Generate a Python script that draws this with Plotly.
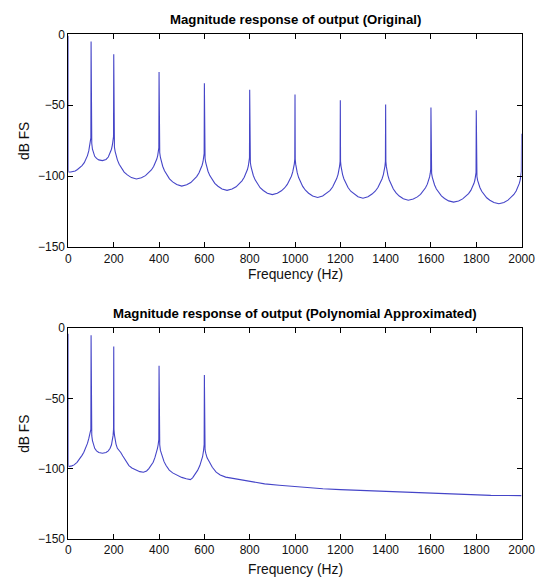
import plotly.graph_objects as go

# ---- Data ----
freq_orig = [
    0, 0, 10, 20, 30, 40, 50, 60, 70, 78, 84, 90, 94, 97, 99,
    100, 100.5, 101, 103, 106, 110, 116, 124, 134, 150, 166, 176, 184, 190, 194, 197, 199,
    200, 200.5, 201, 203, 206, 210, 216, 224, 234, 246, 260, 278, 300, 322, 340, 354, 366, 376, 384, 390, 394, 397, 399,
    400, 400.5, 401, 403, 406, 410, 416, 424, 434, 446, 460, 478, 500, 522, 540, 554, 566, 576, 584, 590, 594, 597, 599,
    600, 600.5, 601, 603, 606, 610, 616, 624, 634, 646, 660, 678, 700, 722, 740, 754, 766, 776, 784, 790, 794, 797, 799,
    800, 800.5, 801, 803, 806, 810, 816, 824, 834, 846, 860, 878, 900, 922, 940, 954, 966, 976, 984, 990, 994, 997, 999,
    1000, 1000.5, 1001, 1003, 1006, 1010, 1016, 1024, 1034, 1046, 1060, 1078, 1100, 1122, 1140, 1154, 1166, 1176, 1184, 1190, 1194, 1197, 1199,
    1200, 1200.5, 1201, 1203, 1206, 1210, 1216, 1224, 1234, 1246, 1260, 1278, 1300, 1322, 1340, 1354, 1366, 1376, 1384, 1390, 1394, 1397, 1399,
    1400, 1400.5, 1401, 1403, 1406, 1410, 1416, 1424, 1434, 1446, 1460, 1478, 1500, 1522, 1540, 1554, 1566, 1576, 1584, 1590, 1594, 1597, 1599,
    1600, 1600.5, 1601, 1603, 1606, 1610, 1616, 1624, 1634, 1646, 1660, 1678, 1700, 1722, 1740, 1754, 1766, 1776, 1784, 1790, 1794, 1797, 1799,
    1800, 1800.5, 1801, 1803, 1806, 1810, 1816, 1824, 1834, 1846, 1860, 1878, 1900, 1922, 1940, 1954, 1966, 1976, 1984, 1990, 1994, 1997, 1999,
    2000, 2000]
db_orig = [
    -1, -97, -97, -96.8, -96.3, -95.3, -94, -92.5, -90.5, -88, -85.5, -82, -78.5, -75, -73,
    -5, -33, -73, -77, -81, -84, -86, -87.5, -88.5, -89, -88.2, -86.5, -84, -81, -78, -75, -72,
    -14, -64, -76, -79.4, -82.5, -85.4, -88.5, -91.6, -94.5, -97.1, -99.1, -101, -102, -101.1, -99.6, -97.8, -95.6, -93.2, -90.6, -87.9, -85.5, -82.9, -80,
    -26.5, -48, -80, -83.5, -86.8, -89.7, -93, -96.2, -99.2, -101.9, -104, -105.9, -107, -106.1, -104.5, -102.6, -100.3, -97.8, -95, -92.3, -89.8, -87, -84,
    -34.5, -75.5, -84, -87.4, -90.5, -93.4, -96.5, -99.6, -102.5, -105.1, -107.1, -109, -110, -109.1, -107.5, -105.6, -103.3, -100.8, -98, -95.3, -92.8, -90, -87,
    -39, -58, -87, -90.4, -93.5, -96.4, -99.5, -102.6, -105.5, -108.1, -110.1, -112, -113, -112, -110.3, -108.3, -105.8, -103, -100, -97, -94.3, -91.3, -88,
    -42.5, -80.5, -88, -91.5, -94.8, -97.7, -101, -104.2, -107.2, -109.9, -112, -113.9, -115, -114, -112.2, -110.2, -107.6, -104.8, -101.7, -98.7, -95.9, -92.8, -89.5,
    -46.5, -63.5, -89.5, -92.9, -96, -98.9, -102, -105.1, -108, -110.6, -112.6, -114.5, -115.5, -114.5, -112.6, -110.6, -108, -105.1, -102, -98.9, -96, -92.9, -89.5,
    -49.5, -83.5, -89.5, -93.1, -96.4, -99.4, -102.7, -106, -109, -111.8, -114, -115.9, -117, -116.1, -114.6, -112.8, -110.6, -108.2, -105.6, -102.9, -100.5, -97.9, -95,
    -51.5, -67.5, -95, -98, -100.8, -103.4, -106.2, -109, -111.5, -113.9, -115.7, -117.4, -118.3, -117.5, -116, -114.3, -112.3, -110, -107.5, -105, -102.7, -100.2, -97.5,
    -53.5, -90.5, -97.5, -100.3, -103, -105.4, -108, -110.6, -113, -115.2, -117, -118.5, -119.4, -118.5, -116.9, -115.1, -112.9, -110.4, -107.8, -105.1, -102.6, -99.9, -97,
    -70, -97]

freq_poly = [
    0, 0, 15, 25, 38, 50, 60, 68, 76, 84, 90, 94, 97, 99,
    100, 100.5, 101, 103, 106, 110, 116, 124, 134, 150, 166, 176, 184, 190, 194, 197, 199,
    200, 200.5, 201, 203, 206, 210, 216, 224, 231, 240, 250, 260, 267, 280, 300, 315, 331, 345, 355, 366, 374, 382, 388, 393, 396, 399,
    400, 400.5, 401, 403, 406, 410, 415, 422, 431, 445, 460, 481, 500, 520, 538, 548, 560, 570, 580, 587, 592, 596, 598, 599,
    600, 600.5, 601, 603, 606, 612, 623, 635, 652, 670, 694, 737, 800, 866, 930, 994, 1123, 1200, 1294, 1400, 1508, 1600, 1722, 1864, 2000]
db_poly = [
    -4, -98.5, -98, -97.3, -95.5, -93, -90.5, -88.3, -85.5, -82, -78.5, -76, -73.5, -72,
    -5, -32.5, -72, -76.5, -80, -83, -85.5, -87.3, -88.5, -89, -88.5, -87.3, -85.5, -83, -80, -76.5, -72,
    -13, -64, -72, -76, -79.5, -82.5, -85.5, -87, -88.5, -91, -93.5, -96.2, -97.8, -99.5, -101.3, -102.1, -102.5, -101.6, -100, -97.8, -95.4, -92, -89, -85.5, -83, -79.3,
    -26.7, -48.5, -79.3, -83, -87, -89.5, -92, -95, -97.8, -101, -103, -105, -106.2, -107.2, -107.8, -106.5, -104, -101.2, -97.8, -94.5, -91.5, -87.5, -85, -82.8,
    -33.4, -74.7, -82.8, -86.5, -89, -92.3, -95.5, -99, -102.5, -104.5, -106, -107.1, -109, -110.8, -111.8, -112.7, -114.3, -114.9, -115.5, -116.3, -117.1, -117.7, -118.3, -119, -119.2]

x_ticks = [0, 200, 400, 600, 800, 1000, 1200, 1400, 1600, 1800, 2000]
y_ticks = [0, -50, -100, -150]
titles = ["Magnitude response of output (Original)", "Magnitude response of output (Polynomial Approximated)"]
x_label = "Frequency (Hz)"
y_label = "dB FS"

# ---- Layout geometry ----
W, H = 554, 585
x0, x1 = 67.5, 535.0
panels = [(28.0, 246.0), (329.0, 545.0)]  # pixel top, bottom
title_y = [12.5, 314.0]
xlabel_y = [274.0, 576.5]

FONT = "Liberation Sans, Arial, sans-serif"
LINE_COLOR = "#4545c8"

fig = go.Figure()
axis_common = dict(showline=True, linecolor="black", linewidth=1, mirror="ticks",
                   ticks="inside", ticklen=5, tickcolor="black", showgrid=False, zeroline=False,
                   tickfont=dict(family=FONT, size=12, color="#111111"))

for i, (fx, fy) in enumerate([(freq_orig, db_orig), (freq_poly, db_poly)]):
    n = "" if i == 0 else "2"
    fig.add_trace(go.Scatter(x=fx, y=fy, mode="lines", line=dict(color=LINE_COLOR, width=1.1),
                             xaxis="x" + n, yaxis="y" + n, showlegend=False, hoverinfo="skip"))
    top, bot = panels[i]
    fig.layout["xaxis" + n] = dict(domain=[x0 / W, x1 / W], range=[0, 2000], tickvals=x_ticks,
                                   anchor="y" + n, **axis_common)
    fig.layout["yaxis" + n] = dict(domain=[(H - bot) / H, (H - top) / H], range=[-150, 0], tickvals=y_ticks,
                                   anchor="x" + n, **axis_common)
    cx = (x0 + x1) / 2
    fig.add_annotation(text="<b>" + titles[i] + "</b>", x=cx / W, y=(H - title_y[i]) / H,
                       xref="paper", yref="paper", showarrow=False, xanchor="center", yanchor="middle",
                       font=dict(family=FONT, size=13.2, color="black"))
    fig.add_annotation(text=x_label, x=cx / W, y=(H - xlabel_y[i]) / H,
                       xref="paper", yref="paper", showarrow=False, xanchor="center", yanchor="middle",
                       font=dict(family=FONT, size=13.8, color="#111111"))
    fig.add_annotation(text=y_label, x=22 / W, y=(H - (top + bot) / 2) / H, textangle=-90,
                       xref="paper", yref="paper", showarrow=False, xanchor="center", yanchor="middle",
                       font=dict(family=FONT, size=13.8, color="#111111"))

fig.update_layout(width=W, height=H, autosize=False, margin=dict(l=0, r=0, t=0, b=0),
                  paper_bgcolor="white", plot_bgcolor="white")
fig.write_html("out.html", config={"responsive": False},
               post_script="document.body.style.margin='0px';document.body.style.overflow='hidden';")
